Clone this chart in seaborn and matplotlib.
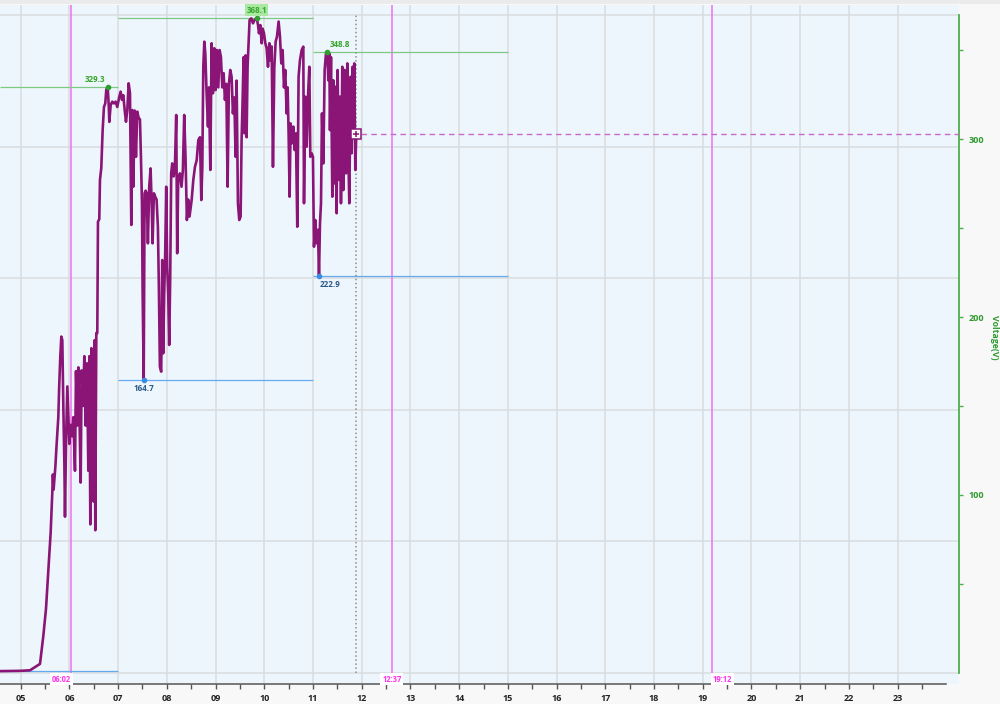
import numpy as np
import pandas as pd
import matplotlib
matplotlib.use("Agg")
import matplotlib.pyplot as plt
from matplotlib.ticker import FixedLocator
from matplotlib.patches import Rectangle
import seaborn as sns

# Voltage readings (hour of day, volts)
times_dawn = [4.50, 5.00, 5.191, 5.396, 5.465, 5.519, 5.567, 5.615, 5.649, 5.660,
              5.675, 5.711, 5.738, 5.772, 5.790, 5.813, 5.834, 5.854, 5.875, 5.896,
              5.909, 5.930, 5.957, 5.978, 5.998, 6.026, 6.053, 6.080, 6.114, 6.135,
              6.162, 6.183, 6.210, 6.231, 6.251, 6.279, 6.306, 6.333, 6.361, 6.388,
              6.409, 6.429, 6.450, 6.477, 6.497, 6.518, 6.531, 6.552, 6.572, 6.586,
              6.613, 6.627, 6.654, 6.682, 6.709, 6.736, 6.757, 6.785, 6.805, 6.819,
              6.846, 6.880, 6.914, 6.948, 6.982]
volts_dawn = [1.0, 1.2, 1.5, 5.1, 21, 36, 57.6, 79, 101.7, 111.5,
              103, 115.7, 128.7, 143.7, 161, 178, 189, 187, 150, 118,
              87.8, 128.7, 161, 143.7, 128.7, 139.4, 133, 143.7, 113.6, 169.6,
              139, 171.7, 139, 107, 170, 150, 178, 139, 174, 113.6,
              178, 83.5, 182.5, 170, 96.3, 187, 80.2, 191, 191, 253.5,
              255, 277, 283.7, 305, 318, 320, 327.8, 329.3, 320, 309.6,
              319, 321, 320, 321, 318]

times_morning = [7.024, 7.052, 7.079, 7.106, 7.134, 7.161, 7.188, 7.216, 7.243, 7.270,
                 7.290, 7.311, 7.339, 7.366, 7.393, 7.420, 7.448, 7.468, 7.489, 7.502,
                 7.525, 7.543, 7.564, 7.584, 7.611, 7.638, 7.666, 7.686, 7.707, 7.734,
                 7.761, 7.789, 7.816, 7.836, 7.857, 7.884, 7.905, 7.925, 7.946, 7.966,
                 7.987, 8.007, 8.028, 8.048, 8.069, 8.089, 8.110, 8.137, 8.164, 8.192,
                 8.212, 8.233, 8.267, 8.301, 8.329, 8.356, 8.383, 8.411, 8.438, 8.465]
volts_morning = [323.8, 326.6, 322, 324.6, 316.3, 309.7, 316.3, 331.3, 325.7, 251.7,
                 316.3, 273.2, 316, 290, 315.4, 312, 311, 290, 263.9, 215,
                 164.7, 269.5, 271, 269.5, 241.4, 273.2, 283.5, 266, 241.4, 269.5,
                 267.6, 266, 250.7, 217, 172, 169.3, 232, 179.6, 213.3, 235.8,
                 273.2, 228.3, 213.3, 184.3, 222.6, 280.7, 286.3, 279, 282.6, 313.5,
                 235.8, 277, 280.7, 273.2, 282.6, 313.5, 290, 254.5, 266, 256.4]

times_midday = [8.509, 8.543, 8.577, 8.612, 8.646, 8.680, 8.707, 8.728, 8.748, 8.769,
                8.789, 8.816, 8.844, 8.864, 8.892, 8.919, 8.946, 8.974, 9.001, 9.028,
                9.056, 9.083, 9.110, 9.138, 9.165, 9.192, 9.220, 9.247, 9.274, 9.302,
                9.329, 9.356, 9.384, 9.411, 9.432, 9.459, 9.486, 9.514, 9.534, 9.555,
                9.575, 9.596, 9.616, 9.637, 9.657, 9.678, 9.698, 9.733, 9.767, 9.801,
                9.844, 9.871, 9.891, 9.919, 9.946, 9.966, 9.994, 10.021, 10.048, 10.076,
                10.103, 10.130, 10.151, 10.178, 10.206, 10.233, 10.260, 10.294, 10.322, 10.349,
                10.376, 10.404, 10.431, 10.458, 10.479, 10.499, 10.520, 10.540, 10.568, 10.595,
                10.622, 10.649, 10.677, 10.704, 10.731]
volts_midday = [265.7, 277, 284.4, 288, 299.4, 301, 265.7, 284.4, 340.6, 354.7,
                348, 325.7, 307, 329, 282.6, 353.8, 325.7, 351, 327.5, 350,
                329, 350, 346, 329, 337, 322, 331, 273.2, 331, 338.8,
                335, 314.4, 323.4, 290, 332.8, 263.9, 254.5, 256.4, 299.4, 322,
                346, 303.2, 347, 301, 340.6, 353.8, 366.9, 367.8, 365, 366.9,
                368.1, 364, 359.4, 364, 353.8, 362, 359.4, 353.8, 351, 340.6,
                353.8, 344, 352, 284.4, 340.6, 354.7, 357.5, 366, 357.5, 342.5,
                350, 329, 338.8, 314.4, 329, 303.2, 267.6, 308.8, 297.6, 307,
                293.8, 303.2, 250.7, 335, 344]

times_late = [10.767, 10.801, 10.815, 10.842, 10.870, 10.897, 10.924, 10.945, 10.972, 10.999,
              11.020, 11.047, 11.074, 11.102, 11.123, 11.143, 11.164, 11.184, 11.212, 11.239,
              11.266, 11.294, 11.314, 11.335, 11.348, 11.369, 11.396, 11.416, 11.444, 11.464,
              11.485, 11.505, 11.533, 11.553, 11.574, 11.601, 11.622, 11.649, 11.676, 11.704,
              11.724, 11.745, 11.772, 11.793, 11.813, 11.827, 11.847, 11.868, 11.888]
volts_late = [350, 351.9, 263.9, 323.8, 295.7, 323.8, 340.6, 290, 292, 290,
              239.5, 254.5, 241.4, 249, 222.9, 252.6, 263.9, 314.4, 286.3, 338.8,
              348, 348.8, 333, 348, 305, 346, 267.6, 333, 275, 329.4,
              258.3, 338.8, 277, 323.8, 263.9, 340.6, 271.3, 338.8, 280.7, 342.5,
              292, 263.9, 335, 292, 340.6, 305, 342.5, 282.6, 302.8]

# Sunrise / solar noon / sunset markers
sun_labels = ['06:02', '12:37', '19:12']
# Segments used for the min / max guides
segment_edges = [7, 11, 15]
hour_ticks = list(range(5, 24))
volt_ticks = [100, 200, 300]
volt_minor = [50, 150, 250, 350]

PURPLE = '#8a1577'
GREEN_LINE = '#7cc884'
GREEN_TXT = '#35a52c'
BLUE_LINE = '#66aaee'
BLUE_TXT = '#2c5a87'
MAGENTA = '#f070f0'
GRID = '#dadcde'

df = pd.DataFrame({
    'time': times_dawn + times_morning + times_midday + times_late,
    'volt': volts_dawn + volts_morning + volts_midday + volts_late,
})

sns.set_theme(style="white")
plt.rcParams['font.family'] = ['Open Sans', 'DejaVu Sans']

fig = plt.figure(figsize=(10, 7.04), dpi=100, facecolor='#f8f8f8')
fig.add_artist(Rectangle((0, 1 - 4 / 704), 1, 4 / 704, transform=fig.transFigure,
                         facecolor='#ebebeb', edgecolor='none'))
ax = fig.add_axes([0, 20 / 704, 0.959, 679 / 704])
ax.set_facecolor('#eef6fd')

x_lo, x_hi = 4.575, 24.26
y_lo, y_hi = -6.2, 375.3
grid_top = 369.5
ax.set_xlim(x_lo, x_hi)
ax.set_ylim(y_lo, y_hi)

# grid
for h in hour_ticks:
    ax.axvline(h, color=GRID, lw=1.1, zorder=0)
for lvl in np.linspace(0, grid_top, 6):
    ax.axhline(lvl, color=GRID, lw=1.1, zorder=0)

# sun lines
sun_hours = [int(s[:2]) + int(s[3:]) / 60 for s in sun_labels]
ax.vlines(sun_hours, 0, y_hi, colors=MAGENTA, lw=1.1, zorder=1)
for t, lab, ha in zip(sun_hours, sun_labels, ['right', 'center', 'left']):
    ax.text(t, -3.4, lab, ha=ha, va='center', fontsize=5.5, fontweight='bold',
            color='#ff30f0', zorder=6,
            bbox=dict(facecolor='white', edgecolor='none', pad=1.2))

# min / max per segment
edges = [x_lo] + segment_edges
overall_max = df['volt'].max()
max_dx = [-13, 0, 13]
min_dx = [None, 0, 11]
for i, (lo, hi) in enumerate(zip(edges[:-1], edges[1:])):
    seg = df[(df['time'] >= lo) & (df['time'] < hi)]
    r_max = seg.loc[seg['volt'].idxmax()]
    r_min = seg.loc[seg['volt'].idxmin()]
    ax.hlines(r_max['volt'], lo, hi, colors=GREEN_LINE, lw=0.9, zorder=2)
    ax.hlines(r_min['volt'], lo, hi, colors=BLUE_LINE, lw=0.9, zorder=2)
    ax.plot(r_max['time'], r_max['volt'], 'o', ms=3, color='#2e9e2e', zorder=7)
    bbox = None
    if r_max['volt'] == overall_max:
        bbox = dict(facecolor='#a8e8a0', edgecolor='none', pad=1.0)
    ax.annotate(f"{r_max['volt']:.1f}", (r_max['time'], r_max['volt']),
                xytext=(max_dx[i] * 0.72, 5.5), textcoords='offset points',
                ha='center', va='center', fontsize=5.8, fontweight='bold',
                color=GREEN_TXT, bbox=bbox, zorder=8)
    if min_dx[i] is not None:
        ax.plot(r_min['time'], r_min['volt'], 'o', ms=3, color='#3b8de0', zorder=7)
        ax.annotate(f"{r_min['volt']:.1f}", (r_min['time'], r_min['volt']),
                    xytext=(min_dx[i] * 0.72, -6), textcoords='offset points',
                    ha='center', va='center', fontsize=5.8, fontweight='bold',
                    color=BLUE_TXT, zorder=8)

# voltage curve
sns.lineplot(data=df, x='time', y='volt', ax=ax, color=PURPLE, linewidth=1.9,
             estimator=None, zorder=5)

# current time / last value
now = df['time'].iloc[-1]
last_v = df['volt'].iloc[-1]
ax.vlines(now, 0, grid_top, colors='#8c8c8c', linestyles=':', lw=1.1, zorder=4)
ax.hlines(last_v, now + 0.1, x_hi, colors='#c868c8', linestyles=(0, (4, 3)), lw=1.0, zorder=4)
ax.plot(now, last_v, marker='s', ms=6.5, mfc='white', mec=PURPLE, mew=1.1, zorder=9)
ax.plot(now, last_v, marker='+', ms=4.5, mec=PURPLE, mew=1.1, zorder=10)

# axes styling
ax.set_xlabel('')
ax.set_ylabel('')
for side in ['left', 'top']:
    ax.spines[side].set_visible(False)
ax.spines['bottom'].set_color('#555555')
ax.spines['bottom'].set_linewidth(1.1)
ax.spines['bottom'].set_bounds(x_lo, 24.0)
ax.spines['right'].set_color('#4cae4c')
ax.spines['right'].set_linewidth(1.3)
ax.spines['right'].set_bounds(0, grid_top)

ax.set_xticks(hour_ticks)
ax.set_xticklabels([f"{h:02d}" for h in hour_ticks], fontweight='bold')
ax.xaxis.set_minor_locator(FixedLocator([h + 0.5 for h in hour_ticks]))
ax.tick_params(axis='x', which='both', bottom=True, direction='out', length=3.5,
               width=1, color='#555555', labelsize=6.5, labelcolor='#222222', pad=4)

ax.yaxis.tick_right()
ax.set_yticks(volt_ticks)
ax.set_yticklabels([str(v) for v in volt_ticks], fontweight='bold')
ax.yaxis.set_minor_locator(FixedLocator(volt_minor))
ax.tick_params(axis='y', which='both', right=True, left=False, direction='out',
               length=3, width=1, color='#4cae4c', labelsize=6.5,
               labelcolor='#2f9a2f', pad=4)

fig.text(0.994, 1 - 337 / 704, 'Voltage(V)', rotation=270, ha='center', va='center',
         fontsize=6.3, fontweight='bold', color='#2f9a2f')

fig.savefig('out.png', dpi=100, facecolor=fig.get_facecolor())
